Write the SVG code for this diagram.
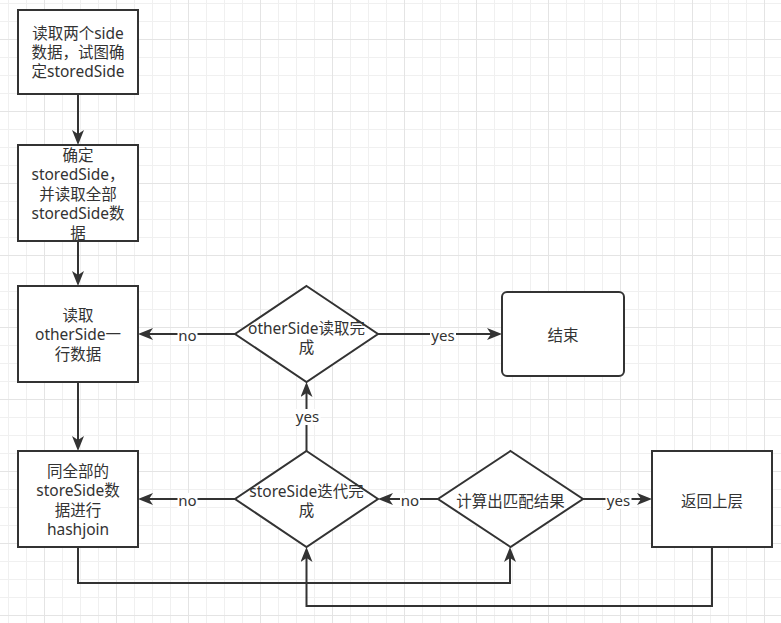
<svg xmlns="http://www.w3.org/2000/svg" width="781" height="623" viewBox="0 0 781 623">
<defs>
<pattern id="gminor" patternUnits="userSpaceOnUse" x="8" y="3" width="18" height="18">
<rect x="0" y="0" width="1" height="18" fill="#f0f0f0"/>
<rect x="0" y="0" width="18" height="1" fill="#f0f0f0"/>
</pattern>
<pattern id="gmajor" patternUnits="userSpaceOnUse" x="44" y="39" width="72" height="72">
<rect x="0" y="0" width="1" height="72" fill="#e4e4e4"/>
<rect x="0" y="0" width="72" height="1" fill="#e4e4e4"/>
</pattern>
<marker id="arr" markerUnits="userSpaceOnUse" markerWidth="16" markerHeight="13" refX="9" refY="6" orient="auto">
<path d="M0,0 L15,6 L0,12 L4,6 Z" fill="#333"/>
</marker>
</defs>
<style>
.shape{fill:#ffffff;stroke:#333333;stroke-width:2}
.edge{fill:none;stroke:#333333;stroke-width:2;marker-end:url(#arr)}
.line{fill:none;stroke:#333333;stroke-width:2}
.t{font-family:"Noto Sans","Noto Sans CJK SC",sans-serif;font-size:15.5px;fill:#333333;text-anchor:middle}
.lbl{font-family:"Noto Sans","Noto Sans CJK SC",sans-serif;font-size:15px;fill:#333333;text-anchor:middle}
.lbg{fill:#ffffff}
</style>
<rect x="0" y="0" width="781" height="623" fill="#ffffff"/>
<rect x="0" y="0" width="781" height="623" fill="url(#gminor)"/>
<rect x="0" y="0" width="781" height="623" fill="url(#gmajor)"/>

<g id="connectors">
<path class="edge" d="M78,94 V139"/>
<path class="edge" d="M78,241 V280"/>
<path class="edge" d="M78,382 V445"/>
<path class="edge" d="M235,334 H144"/>
<path class="edge" d="M378,334 H496"/>
<path class="edge" d="M306.5,451 V388"/>
<path class="edge" d="M235,499 H144"/>
<path class="edge" d="M438,499 H384"/>
<path class="edge" d="M583,499 H646"/>
<path class="edge" d="M78,547 V583 H510 V553"/>
<path class="edge" d="M712,547 V606 H306.5 V553"/>
<g id="labels">
<rect class="lbg" x="177.5" y="328" width="20" height="16"/>
<text class="lbl" x="187.5" y="341">no</text>
<rect class="lbg" x="430" y="328" width="26" height="16"/>
<text class="lbl" x="443" y="341">yes</text>
<rect class="lbg" x="294.5" y="409" width="26" height="16"/>
<text class="lbl" x="307.5" y="422">yes</text>
<rect class="lbg" x="177.5" y="493" width="20" height="16"/>
<text class="lbl" x="187.5" y="506">no</text>
<rect class="lbg" x="400" y="493" width="20" height="16"/>
<text class="lbl" x="410" y="506">no</text>
<rect class="lbg" x="605.5" y="493" width="26" height="16"/>
<text class="lbl" x="618.5" y="506">yes</text>
</g>
</g>

<g id="n1">
<rect class="shape" x="18" y="10" width="120" height="84"/>
<text class="t" x="78" y="38.5">读取两个side</text>
<text class="t" x="78" y="57.5">数据，试图确</text>
<text class="t" x="78" y="76.5">定storedSide</text>
</g>
<g id="n2">
<rect class="shape" x="18" y="145" width="120" height="96"/>
<text class="t" x="78" y="160.5">确定</text>
<text class="t" x="78" y="180">storedSide，</text>
<text class="t" x="78" y="199.5">并读取全部</text>
<text class="t" x="78" y="219">storedSide数</text>
<text class="t" x="78" y="238.5">据</text>
</g>
<g id="n3">
<rect class="shape" x="18" y="286" width="120" height="96"/>
<text class="t" x="78" y="320.5">读取</text>
<text class="t" x="78" y="340">otherSide一</text>
<text class="t" x="78" y="359.5">行数据</text>
</g>
<g id="n4">
<rect class="shape" x="18" y="451" width="120" height="96"/>
<text class="t" x="78" y="476.5">同全部的</text>
<text class="t" x="78" y="496">storeSide数</text>
<text class="t" x="78" y="515.5">据进行</text>
<text class="t" x="78" y="535">hashjoin</text>
</g>
<g id="d1">
<path class="shape" d="M306.5,286 L378,334 L306.5,382 L235,334 Z"/>
<text class="t" x="306.5" y="334">otherSide读取完</text>
<text class="t" x="306.5" y="352.5">成</text>
</g>
<g id="end">
<rect class="shape" x="502" y="292" width="122" height="84" rx="5" ry="5"/>
<text class="t" x="563" y="340.5">结束</text>
</g>
<g id="d2">
<path class="shape" d="M306.5,451 L378,499 L306.5,547 L235,499 Z"/>
<text class="t" x="306.5" y="497">storeSide迭代完</text>
<text class="t" x="306.5" y="515.5">成</text>
</g>
<g id="d3">
<path class="shape" d="M510.5,451 L583,499 L510.5,547 L438,499 Z"/>
<text class="t" x="510.5" y="506.5">计算出匹配结果</text>
</g>
<g id="ret">
<rect class="shape" x="652" y="451" width="120" height="96"/>
<text class="t" x="712" y="506.5">返回上层</text>
</g>
</svg>
